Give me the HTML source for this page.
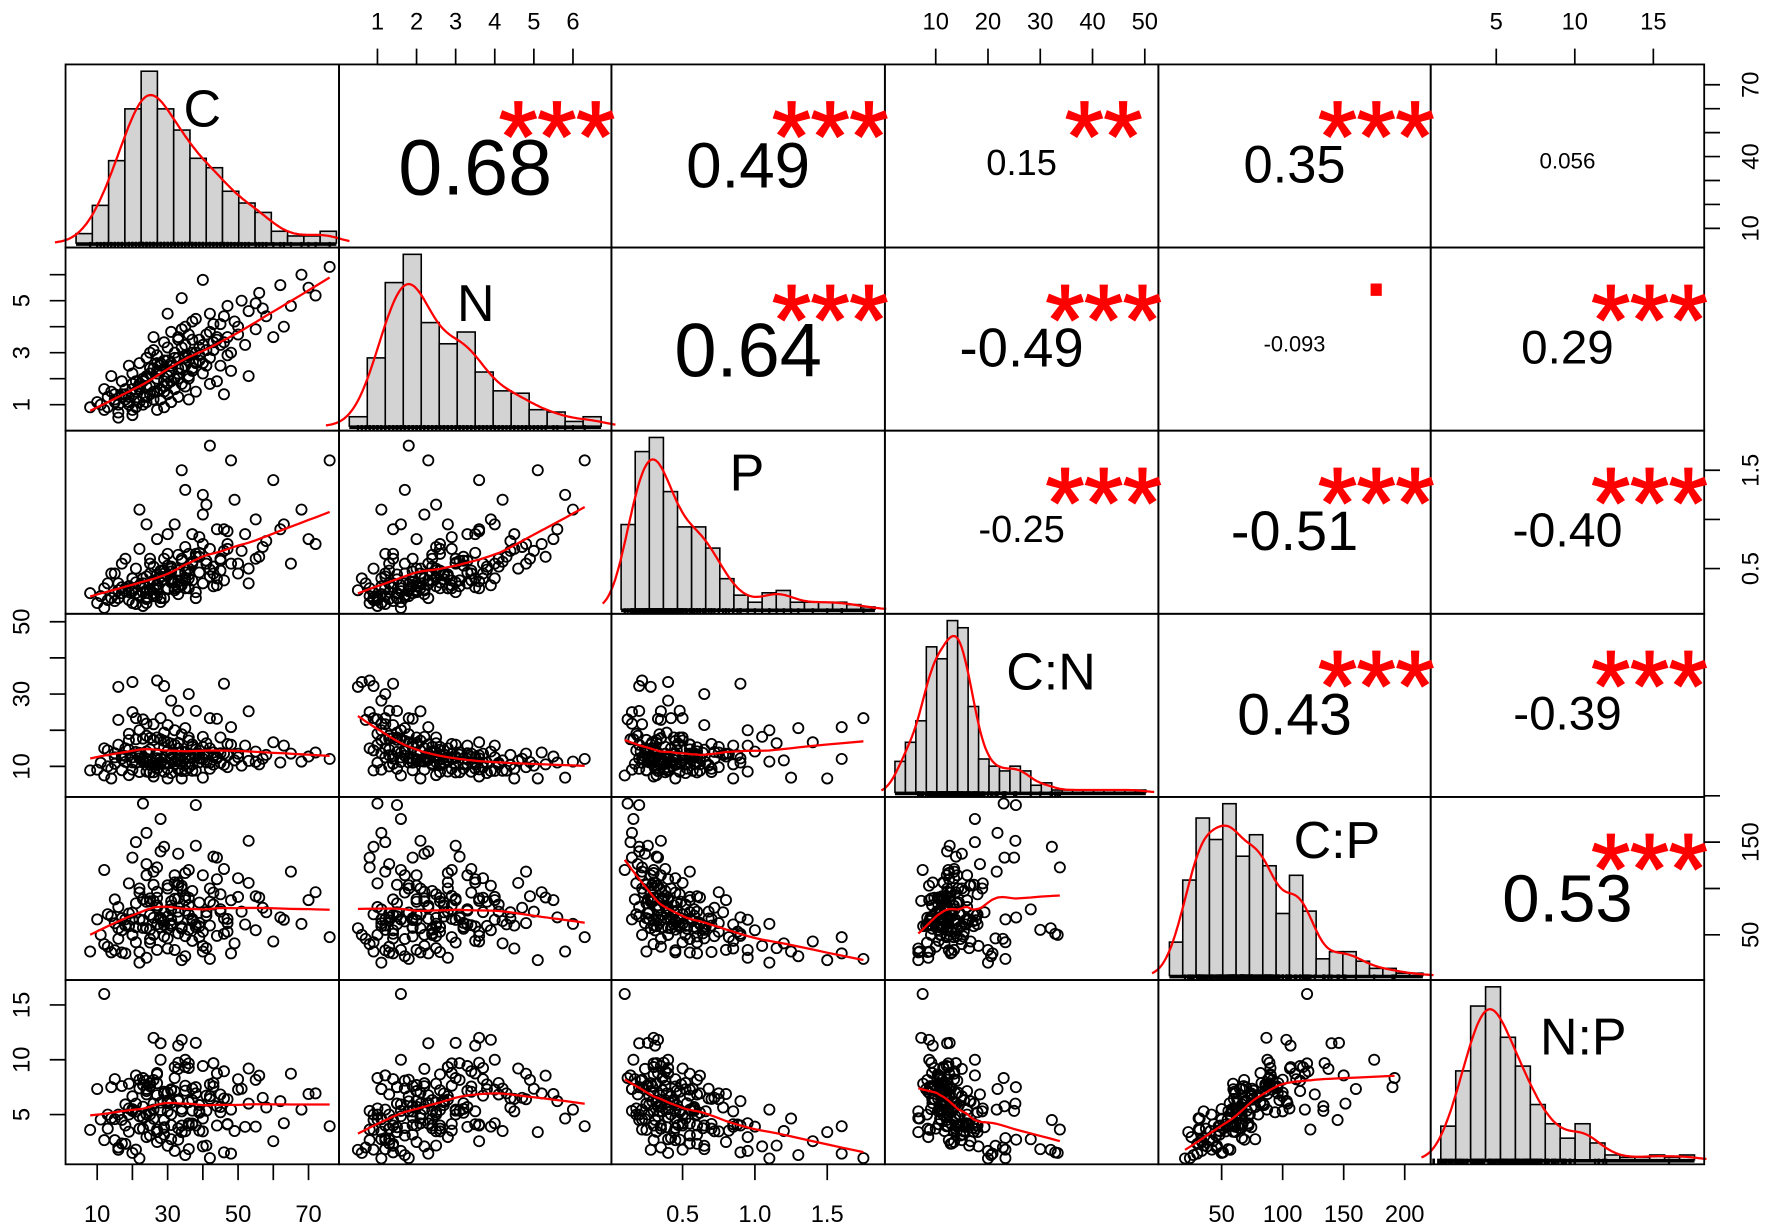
<!DOCTYPE html>
<html><head><meta charset="utf-8">
<style>
html,body{margin:0;padding:0;background:#fff;}
svg{display:block;font-family:"Liberation Sans",Arial,sans-serif;}
</style></head>
<body>
<svg id="chart" width="1772" height="1231" viewBox="0 0 1568 1089" preserveAspectRatio="none" xmlns="http://www.w3.org/2000/svg"></svg>
<script>
// ---- data: observations ----
const C = [8,10,12,14,15,16,17,18,19,20,20,21,22,22,23,24,24,25,25,26,26,27,27,28,28,29,29,30,30,31,31,32,32,33,33,34,34,35,35,36,36,37,37,38,38,39,40,40,41,42,42,43,44,45,45,46,47,48,49,50,51,52,53,55,56,58,60,62,65,68,72,76,23,19,27,33,21,25,29,35,14,17,31,38,24,44,12,48,30,40,22,36,28,16,46,53,26,20,34,42,
18,21,23,25,27,29,31,33,35,37,16,19,22,24,26,28,30,32,34,36,13,15,17,20,23,26,29,32,35,38,41,44,47,50,24,27,30,33,36,39,20,22,25,28,31,34,37,40,43,46,18,21,24,27,30,33,36,39,42,45,15,19,23,27,31,35,39,43,47,55,11,13,25,29,33,37,41,57,63,70];
const N = [0.9,1.1,0.8,1.5,1.2,0.7,1.9,1.4,1.0,2.2,1.6,0.9,1.8,2.6,1.3,2.0,1.1,2.4,1.7,3.1,1.5,2.0,2.9,1.2,2.3,1.9,3.4,2.1,1.4,2.6,3.8,2.0,1.6,2.8,2.2,3.2,1.8,2.5,4.0,2.9,2.0,3.5,2.4,3.0,4.3,2.7,3.3,2.2,3.7,2.8,4.5,3.1,3.6,2.5,4.1,3.4,4.8,3.0,4.2,3.7,5.0,3.3,4.6,3.9,5.3,4.4,3.6,5.6,4.8,6.0,5.2,6.3,1.0,2.5,0.8,1.3,1.2,3.0,0.9,1.7,2.1,1.3,1.1,1.5,2.8,1.9,1.6,2.3,4.5,5.8,1.1,1.2,1.6,0.5,1.4,2.1,3.6,0.6,5.1,1.8,
1.2,1.5,1.9,1.4,2.2,1.7,2.5,2.0,2.9,2.3,1.0,1.3,1.6,2.1,1.2,2.6,1.8,3.0,2.4,2.7,0.9,1.1,1.4,1.8,2.0,2.4,1.5,2.8,3.3,2.6,3.1,3.5,2.9,4.0,1.7,2.3,2.7,3.6,2.1,3.2,0.8,1.7,2.2,2.5,1.9,3.9,3.0,2.6,3.4,4.4,1.6,1.9,1.3,2.6,3.2,2.4,3.7,2.9,3.8,3.3,1.4,1.1,2.0,1.5,2.3,2.8,3.5,4.1,3.6,4.9,1.0,1.3,2.2,2.7,3.5,4.2,2.5,4.7,4.0,5.5];
const P = [0.25,0.15,0.30,0.20,0.45,0.35,0.25,0.60,0.18,0.40,0.30,0.50,0.22,0.70,0.35,0.28,0.15,0.45,0.55,0.38,0.25,0.80,0.33,0.42,0.20,0.60,0.48,0.30,0.65,0.36,0.52,0.28,0.95,0.44,0.24,0.58,0.34,0.72,0.40,0.30,0.50,0.85,0.38,0.26,0.62,0.46,0.35,1.05,0.55,0.42,0.70,0.32,0.90,0.48,0.60,0.38,0.75,0.55,1.20,0.45,0.68,0.85,0.50,1.00,0.62,0.78,1.40,0.90,0.55,1.10,0.75,1.60,0.12,0.32,0.22,0.48,0.14,0.60,0.20,1.30,0.45,0.55,0.40,0.20,0.95,0.33,0.10,1.60,0.85,1.25,1.10,0.65,0.16,0.28,0.90,0.35,0.30,0.40,1.50,1.75,
0.30,0.25,0.40,0.35,0.28,0.45,0.50,0.32,0.38,0.55,0.20,0.26,0.33,0.42,0.22,0.48,0.29,0.36,0.60,0.44,0.18,0.24,0.31,0.27,0.35,0.52,0.39,0.30,0.46,0.65,0.58,0.40,0.70,0.55,0.21,0.34,0.43,0.37,0.50,0.62,0.15,0.23,0.29,0.41,0.47,0.33,0.56,0.75,0.45,0.68,0.27,0.36,0.19,0.30,0.53,0.64,0.40,0.82,0.49,0.58,0.17,0.32,0.26,0.44,0.38,0.30,0.66,0.52,0.88,0.60,0.22,0.35,0.28,0.39,0.31,0.57,1.15,0.72,0.95,0.80];
const CN = C.map((c,i)=>c/N[i]);
const CP = C.map((c,i)=>c/P[i]);
const NP = N.map((n,i)=>n/P[i]);
const varNames = ["C","N","P","C:N","C:P","N:P"];

// ---- histogram data (bin counts) ----
const histC  = [4,16,35,57,73,57,48,36,32,22,17,13,5,3,3,5];
const histN  = [4,29,61,73,44,35,40,23,15,14,7,6,2,4];
const histP  = [36,67,73,50,35,35,26,13,6,3,7,8,3,3,3,3,2,1];
const histCN = [13,21,30,61,56,72,69,36,14,11,9,11,9,3,4,1,1,1,1,1,1,1,1,1];
const histCP = [14,40,66,57,72,50,59,46,26,42,27,7,10,10,6,3,3,1,1];
const histNP = [14,37,64,72,51,39,23,15,9,15,7,2,1,1,2,1,2];
const histStart = [4,0.28,0.075,2.2,7.2,1.47];
const histWidth = [4.62,0.46,0.0975,2.0,10.93,0.95];

// ---- correlations (upper panels) ----
const corrRow = [0,0,0,0,0,1,1,1,1,2,2,2,3,3,4];
const corrCol = [1,2,3,4,5,2,3,4,5,3,4,5,4,5,5];
const corrVals = [0.68,0.49,0.15,0.35,0.056,0.64,-0.49,-0.093,0.29,-0.25,-0.51,-0.40,0.43,-0.39,0.53];
const corrText = ["0.68","0.49","0.15","0.35","0.056","0.64","-0.49","-0.093","0.29","-0.25","-0.51","-0.40","0.43","-0.39","0.53"];
const corrStars = ["***","***","**","***","","***","***",".","***","***","***","***","***","***","***"];

// ---- axis tick values ----
const topTicks = {1:[1,2,3,4,5,6], 3:[10,20,30,40,50], 5:[5,10,15]};
const topLabels = {1:["1","2","3","4","5","6"], 3:["10","20","30","40","50"], 5:["5","10","15"]};
const bottomTicks = {0:[10,20,30,40,50,60,70], 2:[0.5,1.0,1.5], 4:[50,100,150,200]};
const bottomLabels = {0:["10","","30","","50","","70"], 2:["0.5","1.0","1.5"], 4:["50","100","150","200"]};
const leftTicks = {1:[1,2,3,4,5,6], 3:[10,20,30,40,50], 5:[5,10,15]};
const leftLabels = {1:["1","","3","","5",""], 3:["10","","30","","50"], 5:["5","10","15"]};
const rightTicks = {0:[10,20,30,40,50,60,70], 2:[0.5,1.0,1.5], 4:[50,100,150,200]};
const rightLabels = {0:["10","","","40","","","70"], 2:["0.5","","1.5"], 4:["50","","150",""]};

// ---- layout ----
const xs = [58,300,541,783,1025,1266,1508];
const ys = [57,219,381,543,705,867,1030];
const colCal = [[10,86,70,273],[1,334,6,507],[0.5,604,1.5,732],[10,828,50,1013],[50,1081,200,1243],[5,1324,15,1463]];
const rowCal = [[10,202,70,75],[1,358,5,266],[0.5,503,1.5,416],[10,678,50,550],[50,827,150,745],[5,986,15,889]];
const labelPos = [[179,112],[421,284],[661,434],[930,610],[1183,759],[1401,933]];

const vars = [C,N,P,CN,CP,NP];
const hists = [histC,histN,histP,histCN,histCP,histNP];
const NS = "http://www.w3.org/2000/svg";
const svg = document.getElementById("chart");
function lin(c){const [v1,p1,v2,p2]=c;return v=>p1+(v-v1)*(p2-p1)/(v2-v1);}
const xScale = colCal.map(lin);
const yScale = rowCal.map(lin);
function mk(tag, attrs, parent){const e=document.createElementNS(NS,tag);for(const k in attrs)e.setAttribute(k,attrs[k]);(parent||svg).appendChild(e);return e;}

function lowess(x,y,f){
  const idx=x.map((v,i)=>i).sort((a,b)=>x[a]-x[b]);
  const sx=idx.map(i=>x[i]), sy=idx.map(i=>y[i]);
  const n=sx.length, r=Math.ceil(f*n), out=[];
  for(let i=0;i<n;i++){
    const d=sx.map(v=>Math.abs(v-sx[i])).sort((a,b)=>a-b);
    const h=Math.max(d[r-1],1e-9);
    let sw=0,swx=0,swy=0,swxx=0,swxy=0;
    for(let j=0;j<n;j++){
      const u=Math.abs(sx[j]-sx[i])/h; if(u>=1)continue;
      const w=Math.pow(1-u*u*u,3);
      sw+=w;swx+=w*sx[j];swy+=w*sy[j];swxx+=w*sx[j]*sx[j];swxy+=w*sx[j]*sy[j];
    }
    const mx=swx/sw,my=swy/sw,vx=swxx/sw-mx*mx;
    const b=vx>1e-12?(swxy/sw-mx*my)/vx:0;
    out.push([sx[i],my+b*(sx[i]-mx)]);
  }
  return out;
}

// panels
for(let i=0;i<6;i++){
  for(let j=0;j<6;j++){
    const x0=xs[j],x1=xs[j+1],y0=ys[i],y1=ys[i+1];
    const g=mk("g",{});
    if(i===j){
      
      
      const counts=hists[i], st=histStart[i], w=histWidth[i], sx=xScale[j];
      const maxc=Math.max(...counts);
      const base=y1-4, topY=y0+6;
      const cy=c=>base-(c/maxc)*(base-topY);
      counts.forEach((c,k)=>{
        const a=sx(st+k*w), b=sx(st+(k+1)*w);
        const r=mk("rect",{x:a,y:cy(c),width:b-a,height:base-cy(c),fill:"#d3d3d3",stroke:"#000","stroke-width":1.4},g);
        
        
      });
      // rug
      vars[i].forEach(v=>{
        const px=sx(v);
        if(px>x0&&px<x1) mk("line",{x1:px,x2:px,y1:base-1,y2:base+4,stroke:"#000","stroke-width":2},g);
      });
      mk("line",{x1:sx(st),x2:sx(st+counts.length*w),y1:base+1,y2:base+1,stroke:"#000","stroke-width":3},g);
      // density curve from bins
      const bw=w*0.9, pts=[];
      const lo=st-1.3*w, hi=st+(counts.length+0.8)*w;
      for(let s=0;s<=160;s++){
        const xv=lo+(hi-lo)*s/160;
        let d=0;
        counts.forEach((c,k)=>{const m=st+(k+0.5)*w;d+=c*Math.exp(-0.5*Math.pow((xv-m)/bw,2))/(bw*Math.sqrt(2*Math.PI))*w;});
        pts.push(sx(xv).toFixed(1)+","+cy(d).toFixed(1));
      }
      const dl=mk("polyline",{points:pts.join(" "),fill:"none",stroke:"#ff0000","stroke-width":2},g);
      
      
      const t=mk("text",{x:labelPos[i][0],y:labelPos[i][1],"text-anchor":"middle","font-size":46,fill:"#000"},g);
      t.textContent=varNames[i];
      
      
    } else if(i>j){
      
      
      const X=vars[j],Y=vars[i],sx=xScale[j],sy=yScale[i];
      X.forEach((v,k)=>{
        const c=mk("circle",{cx:sx(v),cy:sy(Y[k]),r:4.5,fill:"none",stroke:"#000","stroke-width":1.6},g);
        
        
      });
      const fit=lowess(X,Y,2/3);
      const sl=mk("polyline",{points:fit.map(p=>sx(p[0]).toFixed(1)+","+sy(p[1]).toFixed(1)).join(" "),fill:"none",stroke:"#ff0000","stroke-width":2},g);
      
      
    }
    const pr=mk("rect",{x:x0,y:y0,width:x1-x0,height:y1-y0,fill:"none",stroke:"#000","stroke-width":1.6});
    
    
  }
}

// correlation texts
corrVals.forEach((r,k)=>{
  const i=corrRow[k], j=corrCol[k];
  const x0=xs[j],x1=xs[j+1],y0=ys[i],y1=ys[i+1];
  const txt=corrText[k];
  let em=0; for(const ch of txt) em+= ch==='.'?0.278:(ch==='-'?0.333:0.556);
  const fs=139*(Math.abs(r)+0.3)/em;
  const cx=(x0+x1)/2, cyc=(y0+y1)/2+2+0.1*fs;
  const t=mk("text",{x:cx,y:cyc+0.36*fs,"text-anchor":"middle","font-size":fs.toFixed(1),fill:"#000"});
  t.textContent=txt;
  
  
  if(corrStars[k]){
    const s=mk("text",{x:x0+0.8*(x1-x0),y:y0+(corrStars[k]==='.'?42:94),"text-anchor":"middle","font-size":88,fill:"#ff0000",stroke:"#ff0000","stroke-width":1.5});
    s.textContent=corrStars[k];
    
    
  }
});

// axes
function axisGroup(name){const g=mk("g",{});return g;}
for(const j in topTicks){
  const g=axisGroup('top-axis-'+varNames[j].replace(':','-').toLowerCase());
  topTicks[j].forEach((v,k)=>{const px=xScale[j](v);
    mk("line",{x1:px,x2:px,y1:ys[0],y2:ys[0]-14,stroke:"#000","stroke-width":1.5},g);
    if(topLabels[j][k]){const t=mk("text",{x:px,y:26,"text-anchor":"middle","font-size":21},g);t.textContent=topLabels[j][k];}
  });
  mk("line",{x1:xScale[j](topTicks[j][0]),x2:xScale[j](topTicks[j][topTicks[j].length-1]),y1:ys[0],y2:ys[0],stroke:"#000","stroke-width":1.5},g);
}
for(const j in bottomTicks){
  const g=axisGroup('bottom-axis-'+varNames[j].replace(':','-').toLowerCase());
  bottomTicks[j].forEach((v,k)=>{const px=xScale[j](v);
    mk("line",{x1:px,x2:px,y1:ys[6],y2:ys[6]+14,stroke:"#000","stroke-width":1.5},g);
    if(bottomLabels[j][k]){const t=mk("text",{x:px,y:1081,"text-anchor":"middle","font-size":21},g);t.textContent=bottomLabels[j][k];}
  });
}
for(const i in leftTicks){
  const g=axisGroup('left-axis-'+varNames[i].replace(':','-').toLowerCase());
  leftTicks[i].forEach((v,k)=>{const py=yScale[i](v);
    mk("line",{x1:xs[0],x2:xs[0]-14,y1:py,y2:py,stroke:"#000","stroke-width":1.5},g);
    if(leftLabels[i][k]){const t=mk("text",{x:0,y:0,"text-anchor":"middle","font-size":21,transform:`translate(26,${py}) rotate(-90)`},g);t.textContent=leftLabels[i][k];}
  });
}
for(const i in rightTicks){
  const g=axisGroup('right-axis-'+varNames[i].replace(':','-').toLowerCase());
  rightTicks[i].forEach((v,k)=>{const py=yScale[i](v);
    if(py<ys[+i]-1||py>ys[+i+1]+1)return;
    mk("line",{x1:xs[6],x2:xs[6]+14,y1:py,y2:py,stroke:"#000","stroke-width":1.5},g);
    if(rightLabels[i][k]){const t=mk("text",{x:0,y:0,"text-anchor":"middle","font-size":21,transform:`translate(1556,${py}) rotate(-90)`},g);t.textContent=rightLabels[i][k];}
  });
}
</script>
</body></html>
